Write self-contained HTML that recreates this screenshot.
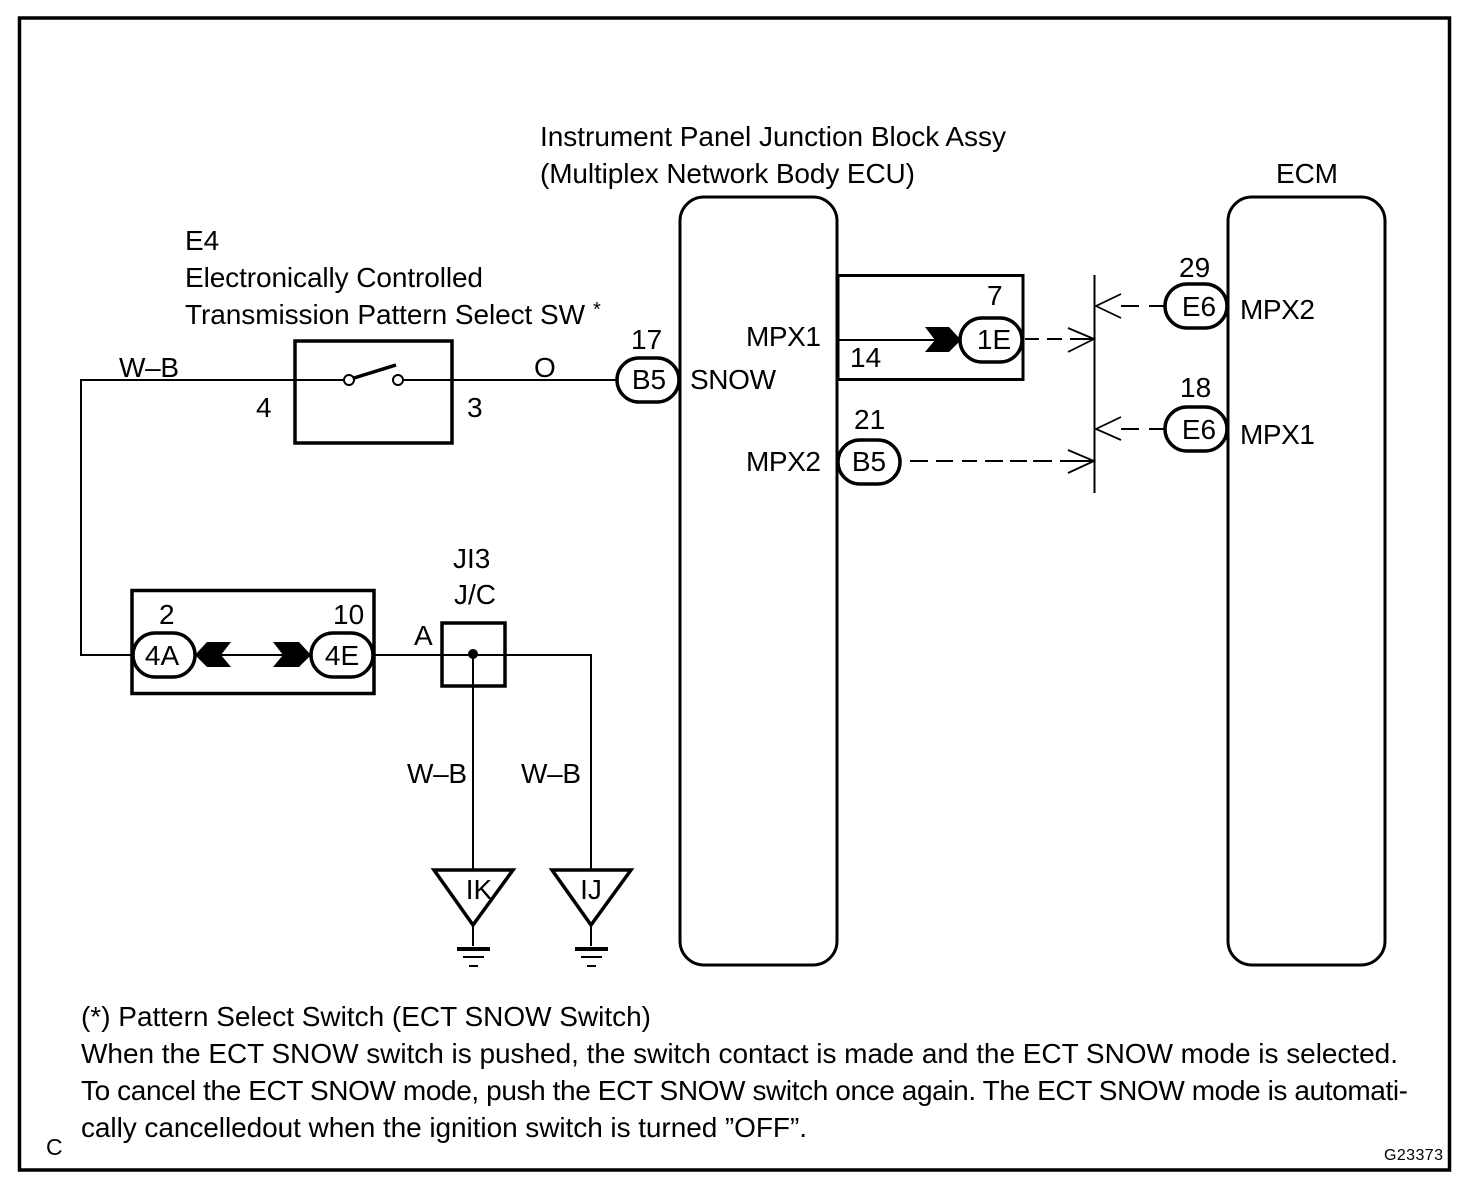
<!DOCTYPE html>
<html><head><meta charset="utf-8"><style>
html,body{margin:0;padding:0;background:#fff;width:1472px;height:1186px;overflow:hidden}
svg{display:block}
text{font-family:"Liberation Sans",sans-serif;font-size:28px;fill:#000;stroke:none}
.c{text-anchor:middle}
</style></head><body>
<svg width="1472" height="1186" viewBox="0 0 1472 1186" xmlns="http://www.w3.org/2000/svg">
<rect width="1472" height="1186" fill="#fff"/>
<g fill="none" stroke="#000">
<rect x="19.5" y="18" width="1430" height="1152" stroke-width="3.5"/>
<rect x="680" y="197" width="157" height="768" rx="24" stroke-width="3"/>
<rect x="1228" y="197" width="157" height="768" rx="24" stroke-width="3"/>
<rect x="295" y="341" width="157" height="102" stroke-width="3.5"/>
<rect x="838" y="275.500" width="185" height="104" stroke-width="3"/>
<rect x="132" y="590.500" width="242" height="103" stroke-width="3.500"/>
<rect x="442" y="623" width="63" height="63" stroke-width="3.500"/>
<path d="M617 380H404M343 380H81V655H133M195 655H310M374 655H591V870M473 655V870M838 340H960M1094.500 275V493" stroke-width="2"/>
<circle cx="349" cy="380" r="5" stroke-width="2"/>
<circle cx="398" cy="380" r="5" stroke-width="2"/>
<path d="M354 378L396 365" stroke-width="3.500"/>
<g stroke-width="3.500">
<rect x="617" y="358" width="62" height="44" rx="22" fill="#fff"/>
<rect x="838" y="440" width="62" height="44" rx="22" fill="#fff"/>
<rect x="960" y="318" width="62" height="44" rx="22" fill="#fff"/>
<rect x="1165" y="284" width="62" height="44" rx="22" fill="#fff"/>
<rect x="1165" y="407" width="62" height="44" rx="22" fill="#fff"/>
<rect x="133" y="633" width="62" height="44" rx="22" fill="#fff"/>
<rect x="311" y="633" width="62" height="44" rx="22" fill="#fff"/>
</g>
<path d="M1025 339H1039M1047 339H1062M1070 339H1094M910 461H1094" stroke-width="2"/>
<path d="M928 461H936M953 461H962M977 461H985M1003 461H1010M1027 461H1033M1052 461H1060" stroke="#fff" stroke-width="4"/>
<path d="M1068 328L1094 339L1068 352M1068 450L1094 461L1068 473M1121 294L1096 306L1121 318M1121 417L1096 429L1121 440" stroke-width="1.800"/>
<path d="M1121 306H1139M1149 306H1165M1121 429H1139M1149 429H1165" stroke-width="2"/>
<path d="M434 870H513L473 925ZM552 870H631L591 925Z" stroke-width="3.500" stroke-linejoin="miter"/>
<path d="M473 925V946M591 925V946" stroke-width="2"/>
<path d="M457 949H490M575 949H608" stroke-width="4"/>
<path d="M463 957H484M581 957H602M469 966H478M587 966H596" stroke-width="2"/>
</g>
<path d="M925 327H949L961 340L949 352H925L935 340ZM273 642H299L311 655L299 667H273L283 655ZM231 642H207L195 655L207 667H231L221 655Z" fill="#000"/>
<circle cx="473" cy="654" r="5" fill="#000"/>
<text x="540" y="146" textLength="466">Instrument Panel Junction Block Assy</text>
<text x="540" y="183" textLength="375">(Multiplex Network Body ECU)</text>
<text x="1276" y="183" textLength="62">ECM</text>
<text x="185" y="250">E4</text>
<text x="185" y="287" textLength="298">Electronically Controlled</text>
<text x="185" y="324" textLength="400">Transmission Pattern Select SW</text>
<text x="593" y="316" style="font-size:20px">*</text>
<text x="119" y="377" textLength="60">W–B</text>
<text x="534" y="377">O</text>
<text x="256" y="417">4</text>
<text x="467" y="417">3</text>
<text x="631" y="349">17</text>
<text x="649" y="389" class="c">B5</text>
<text x="690" y="389" textLength="86">SNOW</text>
<text x="746" y="346" textLength="75">MPX1</text>
<text x="746" y="471" textLength="75">MPX2</text>
<text x="850" y="367">14</text>
<text x="987" y="305">7</text>
<text x="994" y="349" class="c">1E</text>
<text x="854" y="429">21</text>
<text x="869" y="471" class="c">B5</text>
<text x="1179" y="277">29</text>
<text x="1199" y="316" class="c">E6</text>
<text x="1240" y="319" textLength="75">MPX2</text>
<text x="1180" y="397">18</text>
<text x="1199" y="439" class="c">E6</text>
<text x="1240" y="444" textLength="75">MPX1</text>
<text x="159" y="624">2</text>
<text x="333" y="624">10</text>
<text x="162" y="665" class="c">4A</text>
<text x="342" y="665" class="c">4E</text>
<text x="453" y="568">JI3</text>
<text x="454" y="604">J/C</text>
<text x="414" y="645">A</text>
<text x="407" y="783" textLength="60">W–B</text>
<text x="521" y="783" textLength="60">W–B</text>
<text x="479" y="899" class="c">IK</text>
<text x="591" y="899" class="c">IJ</text>
<text x="81" y="1026" textLength="570">(*) Pattern Select Switch (ECT SNOW Switch)</text>
<text x="81" y="1063" textLength="1317">When the ECT SNOW switch is pushed, the switch contact is made and the ECT SNOW mode is selected.</text>
<text x="81" y="1100" textLength="1327">To cancel the ECT SNOW mode, push the ECT SNOW switch once again. The ECT SNOW mode is automati-</text>
<text x="81" y="1137" textLength="726">cally cancelledout when the ignition switch is turned ”OFF”.</text>
<text x="46" y="1155" style="font-size:23px">C</text>
<text x="1384" y="1160" textLength="59" style="font-size:16px">G23373</text>
</svg>
</body></html>
